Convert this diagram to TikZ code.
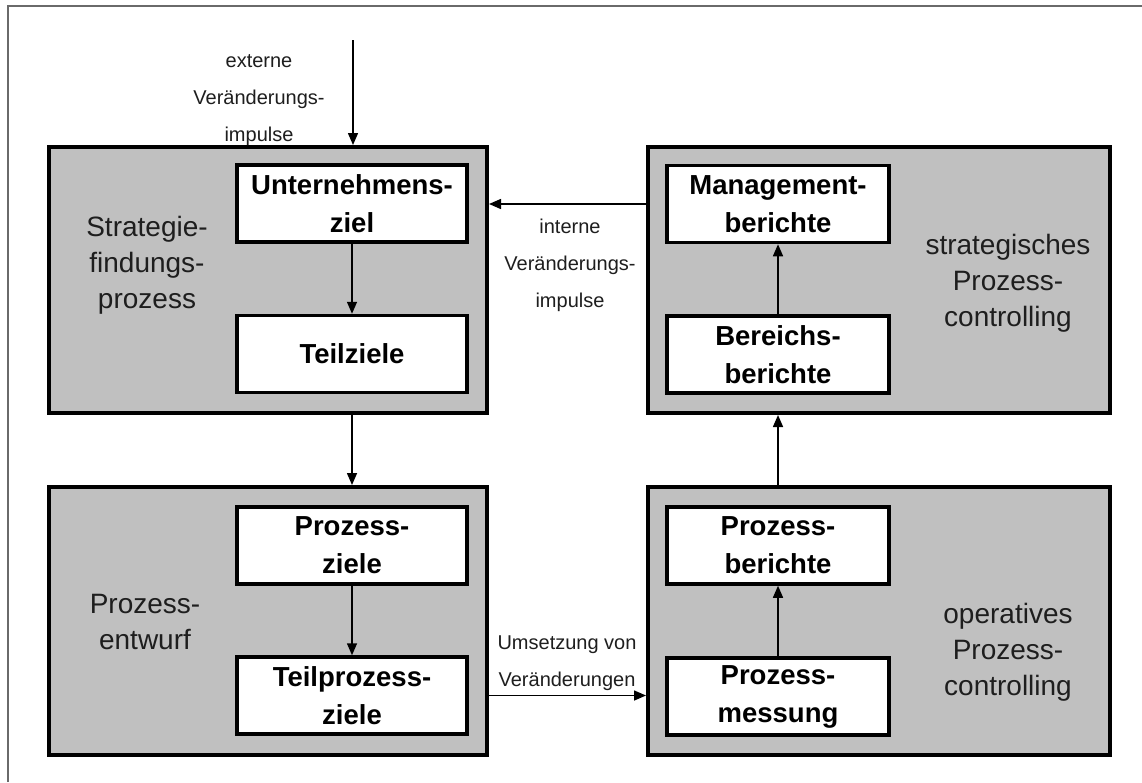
\documentclass[tikz,border=0pt]{standalone}
\usepackage{fontspec}
\setmainfont{Liberation Sans}
\usetikzlibrary{arrows.meta}
\definecolor{panel}{HTML}{C0C0C0}
\definecolor{frameline}{HTML}{6A6A6A}
\definecolor{labeltext}{HTML}{1E1E1E}
\begin{document}
\begin{tikzpicture}[x=1pt,y=-1pt,
  panelbox/.style={draw=black,fill=panel,line width=4pt,minimum height=266pt,inner sep=0pt},
  itembox/.style={draw=black,fill=white,line width=3.5pt,minimum width=230pt,minimum height=77pt,
    inner sep=0pt,align=center,font=\fontsize{27.5}{38}\selectfont\bfseries},
  paneltitle/.style={align=center,inner sep=0pt,text=labeltext,font=\fontsize{28}{36}\selectfont},
  flowlabel/.style={align=center,inner sep=0pt,text=labeltext,font=\fontsize{20}{37}\selectfont},
  flow/.style={line width=1.5pt,-{Triangle[length=12pt,width=10pt]}}]
% page area and frame
\useasboundingbox (0,0) rectangle (1142,782);
\fill[white] (0,0) rectangle (1142,782);
\draw[frameline,line width=1.5pt] (8,782) -- (8,6) -- (1142,6);

% four panels
\node[panelbox,minimum width=438pt] (sf) at (268,280) {};
\node[panelbox,minimum width=438pt,minimum height=268pt] (pe) at (268,621) {};
\node[panelbox,minimum width=462pt] (spc) at (879,280) {};
\node[panelbox,minimum width=462pt,minimum height=268pt] (opc) at (879,621) {};

% inner boxes
\node[itembox] (uz) at (352,203.5) {Unternehmens-\\ziel};
\node[itembox] (tz) at (352,354) {Teilziele};
\node[itembox] (pz) at (352,545.5) {Prozess-\\ziele};
\node[itembox] (tpz) at (352,695.5) {Teilprozess-\\ziele};
\node[itembox,minimum width=222pt] (mb) at (778,204) {Management-\\berichte};
\node[itembox,minimum width=222pt] (bb) at (778,354.5) {Bereichs-\\berichte};
\node[itembox,minimum width=222pt] (pb) at (778,545.5) {Prozess-\\berichte};
\node[itembox,minimum width=222pt] (pm) at (778,696.5) {Prozess-\\messung};

% panel titles
\node[paneltitle] (t1) at (147,265) {Strategie-\\findungs-\\prozess};
\node[paneltitle] (t2) at (145,622) {Prozess-\\entwurf};
\node[paneltitle] (t3) at (1008,283) {strategisches\\Prozess-\\controlling};
\node[paneltitle] (t4) at (1008,652) {operatives\\Prozess-\\controlling};

% connector labels
\node[flowlabel] (l1) at (259,100) {externe\\Veränderungs-\\impulse};
\node[flowlabel] (l2) at (570,265) {interne\\Veränderungs-\\impulse};
\node[flowlabel] (l3) at (567,663) {Umsetzung von\\Veränderungen};

% connectors
\coordinate (ext) at (353,40);
\draw[flow] (ext) -- (ext |- sf.north);
\draw[flow] (uz) -- (tz);
\draw[flow] (uz.south |- sf.south) -- (uz.south |- pe.north);
\draw[flow] (pz) -- (tpz);
\draw[flow] (pe.east |- tpz) -- (opc.west |- tpz);
\draw[flow] (pm) -- (pb);
\draw[flow] (pb.north |- opc.north) -- (pb.north |- spc.south);
\draw[flow] (bb) -- (mb);
\draw[flow] (spc.west |- mb) -- (sf.east |- mb);
\end{tikzpicture}
\end{document}
